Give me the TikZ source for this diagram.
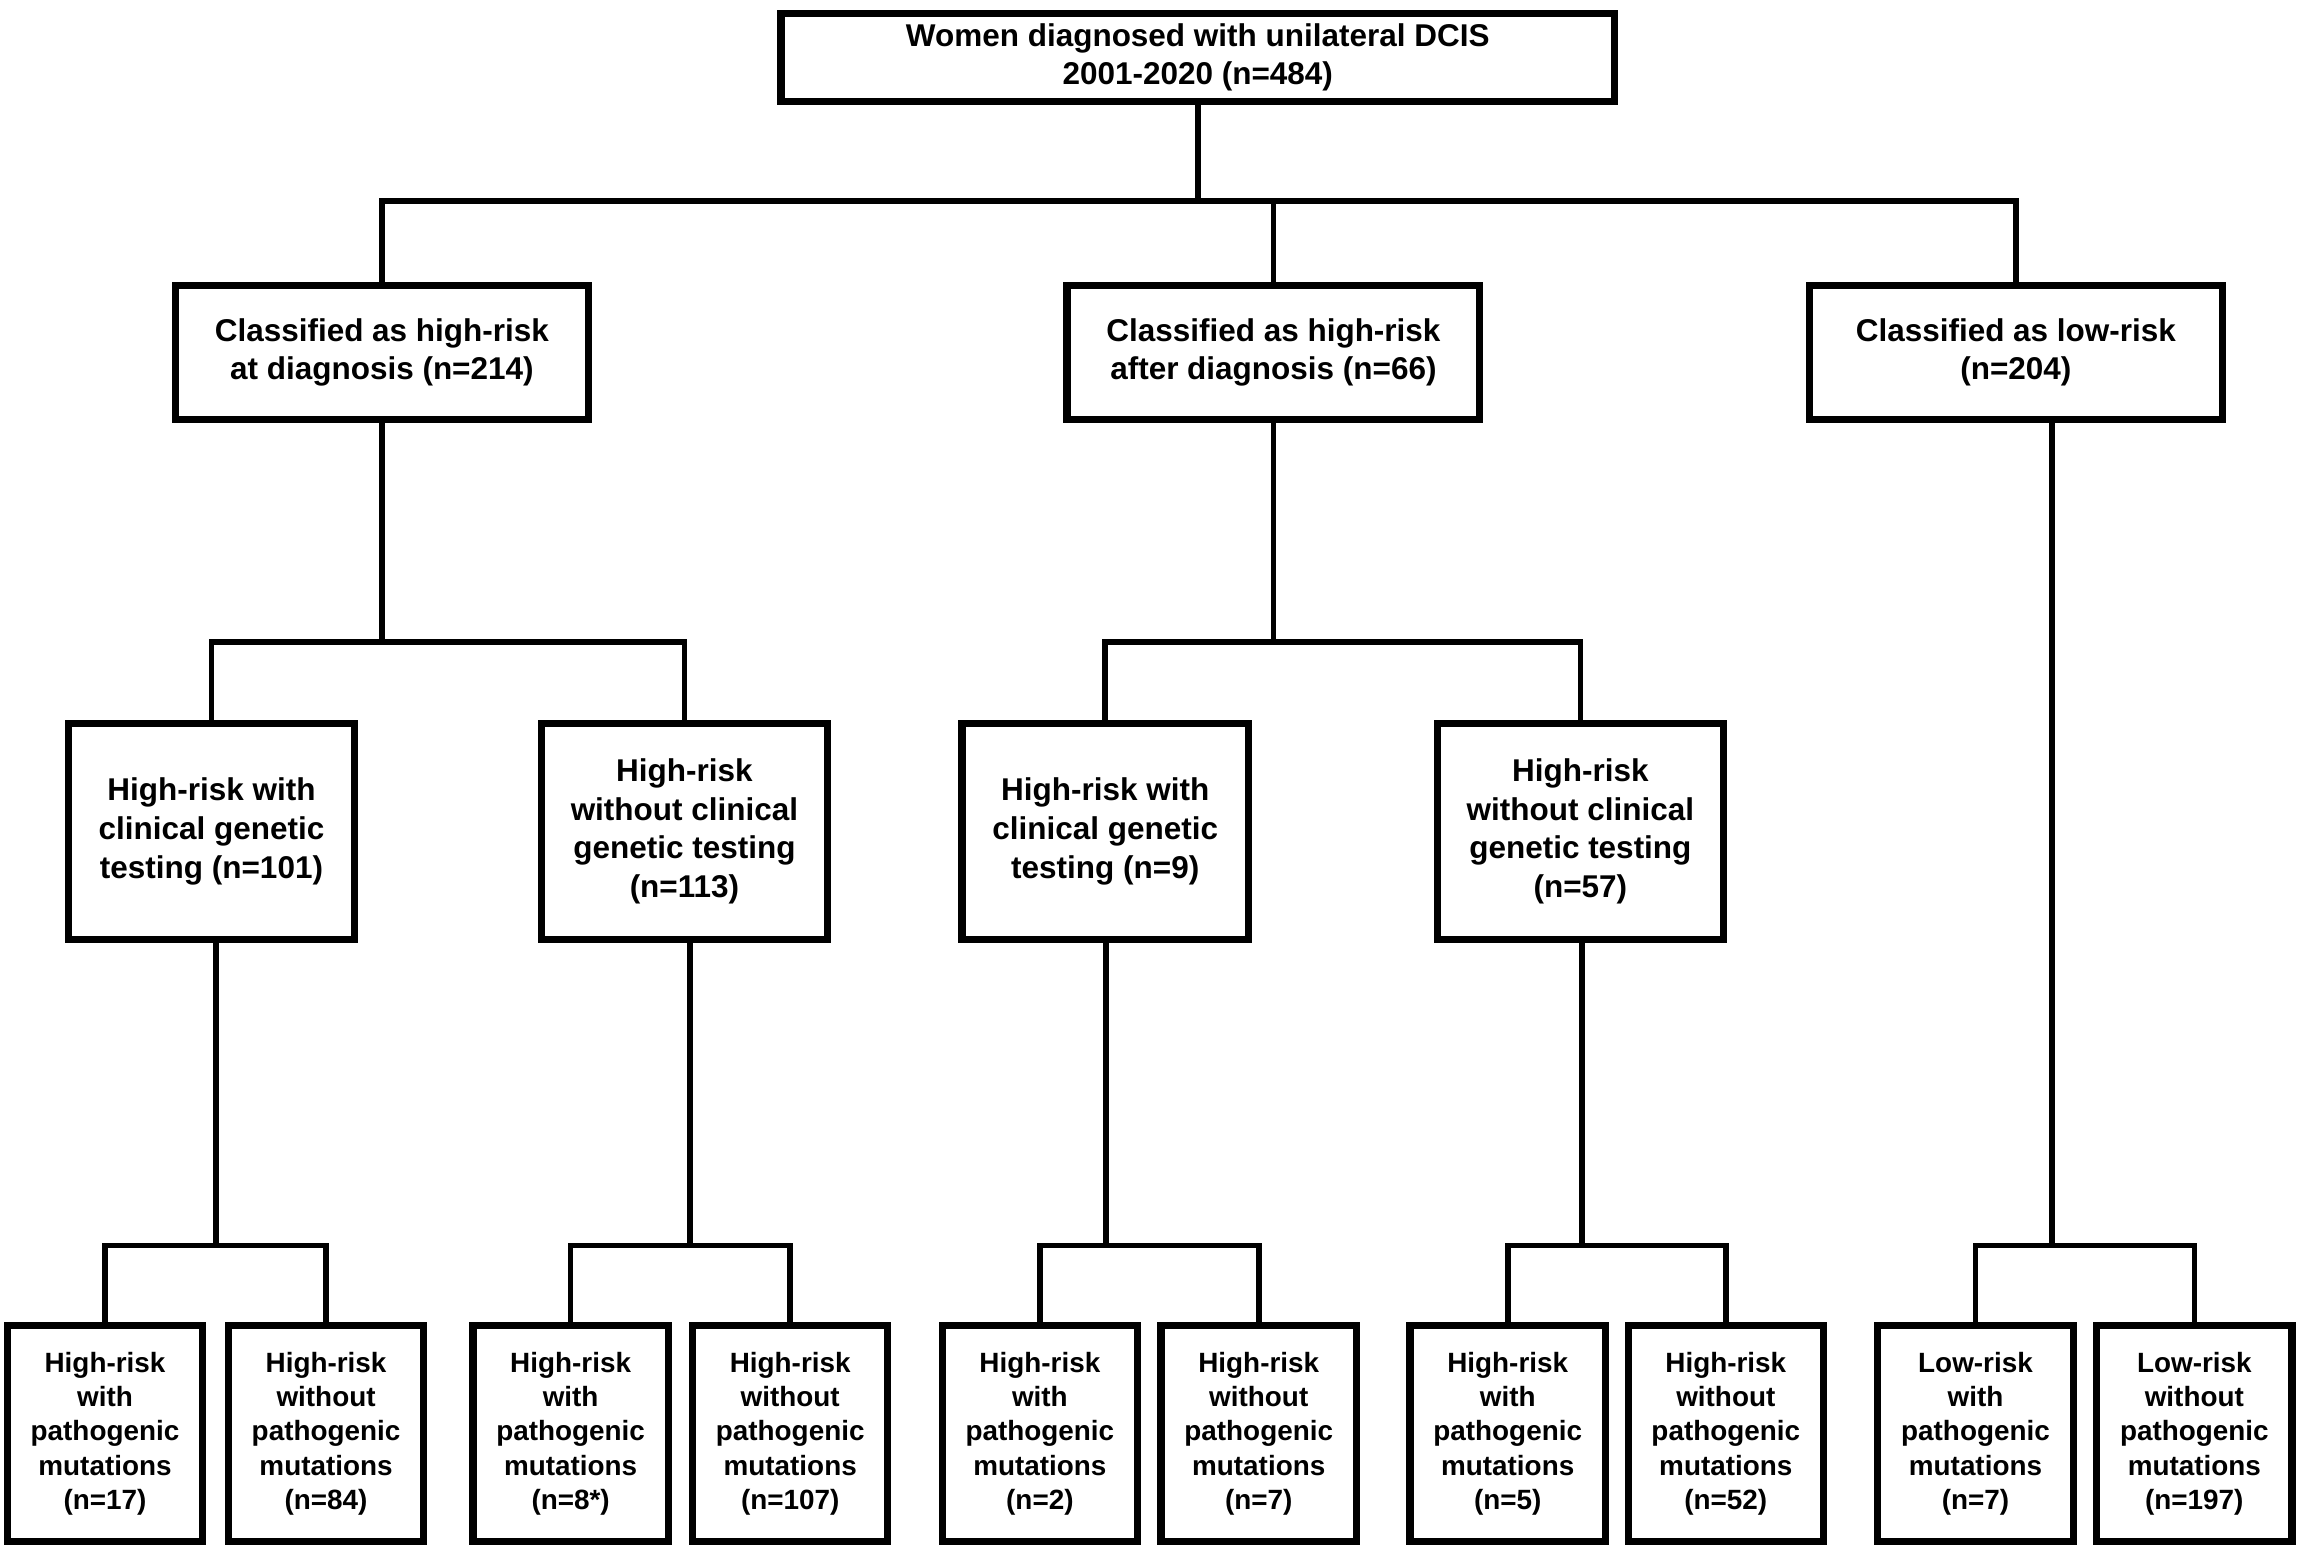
\documentclass[tikz,border=0pt]{standalone}
\usepackage{fontspec}
\setmainfont{Liberation Sans}
\begin{document}
\begin{tikzpicture}[x=0.02cm,y=-0.02cm,cohort/.style={draw=black,line width=2.8pt,fill=white,align=center,inner sep=0pt,font=\fontsize{12.2}{15}\selectfont\bfseries},topbox/.style={cohort,minimum width=11.35cm,minimum height=1.2cm},riskbox/.style={cohort,minimum width=5.62cm,minimum height=1.82cm},testbox/.style={cohort,minimum width=3.9cm,minimum height=2.94cm},mutbox/.style={cohort,minimum width=2.66cm,minimum height=2.94cm,font=\fontsize{10.8}{13.3}\selectfont\bfseries},link/.style={line width=2.2pt}]
\useasboundingbox (0,0) rectangle (1568,1054);
\node[topbox] (all) at (815.5,39) {Women diagnosed with unilateral DCIS\\2001-2020 (n=484)};
\node[riskbox] (hra) at (260,240) {Classified as high-risk\\at diagnosis (n=214)};
\node[riskbox] (hrb) at (867,240) {Classified as high-risk\\after diagnosis (n=66)};
\node[riskbox] (lr) at (1372.5,240) {Classified as low-risk\\(n=204)};
\node[testbox] (hrt1) at (144,566) {High-risk with\\clinical genetic\\testing (n=101)};
\node[testbox] (hrnt1) at (466,566) {High-risk\\without clinical\\genetic testing\\(n=113)};
\node[testbox] (hrt2) at (752.5,566) {High-risk with\\clinical genetic\\testing (n=9)};
\node[testbox] (hrnt2) at (1076,566) {High-risk\\without clinical\\genetic testing\\(n=57)};
\node[mutbox] (hwp1) at (71.5,976) {High-risk\\with\\pathogenic\\mutations\\(n=17)};
\node[mutbox] (hwop1) at (222,976) {High-risk\\without\\pathogenic\\mutations\\(n=84)};
\node[mutbox] (hwp2) at (388.5,976) {High-risk\\with\\pathogenic\\mutations\\(n=8*)};
\node[mutbox] (hwop2) at (538,976) {High-risk\\without\\pathogenic\\mutations\\(n=107)};
\node[mutbox] (hwp3) at (708,976) {High-risk\\with\\pathogenic\\mutations\\(n=2)};
\node[mutbox] (hwop3) at (857,976) {High-risk\\without\\pathogenic\\mutations\\(n=7)};
\node[mutbox] (hwp4) at (1026.5,976) {High-risk\\with\\pathogenic\\mutations\\(n=5)};
\node[mutbox] (hwop4) at (1175,976) {High-risk\\without\\pathogenic\\mutations\\(n=52)};
\node[mutbox] (lwp) at (1345,976) {Low-risk\\with\\pathogenic\\mutations\\(n=7)};
\node[mutbox] (lwop) at (1494,976) {Low-risk\\without\\pathogenic\\mutations\\(n=197)};
\coordinate (j0) at (815.5,137);
\coordinate (ja) at (260,437);
\coordinate (jb) at (867,437);
\coordinate (j1) at (147,848);
\coordinate (j2) at (470,848);
\coordinate (j3) at (753,848);
\coordinate (j4) at (1077,848);
\coordinate (j5) at (1397,848);
\draw[link] (all) -- (j0);
\draw[link] (hra) |- (j0) -| (lr);
\draw[link] (hrb) -- (hrb |- j0);
\draw[link] (hra) -- (ja);
\draw[link] (hrt1) |- (ja) -| (hrnt1);
\draw[link] (hrb) -- (jb);
\draw[link] (hrt2) |- (jb) -| (hrnt2);
\draw[link] (hrt1.south -| j1) -- (j1);
\draw[link] (hwp1) |- (j1) -| (hwop1);
\draw[link] (hrnt1.south -| j2) -- (j2);
\draw[link] (hwp2) |- (j2) -| (hwop2);
\draw[link] (hrt2.south -| j3) -- (j3);
\draw[link] (hwp3) |- (j3) -| (hwop3);
\draw[link] (hrnt2.south -| j4) -- (j4);
\draw[link] (hwp4) |- (j4) -| (hwop4);
\draw[link] (lr.south -| j5) -- (j5);
\draw[link] (lwp) |- (j5) -| (lwop);
\end{tikzpicture}
\end{document}
